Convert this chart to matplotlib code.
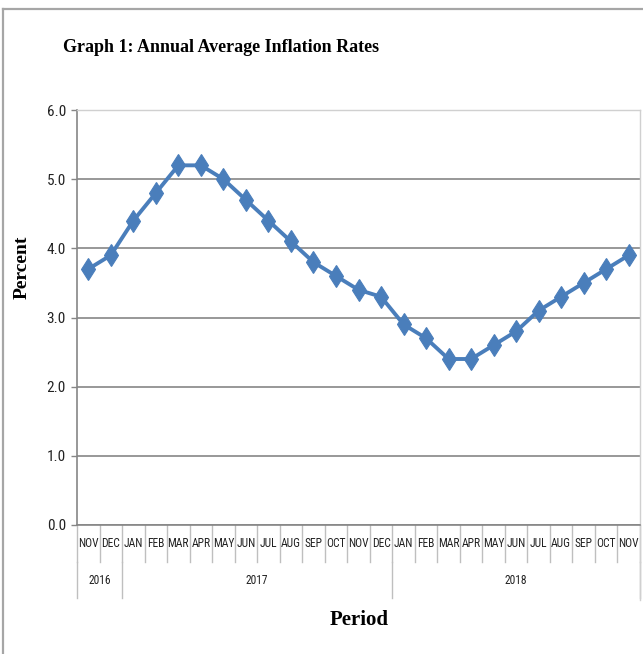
import matplotlib
matplotlib.use("Agg")
import matplotlib.pyplot as plt
from matplotlib.lines import Line2D
from matplotlib.transforms import blended_transform_factory
from matplotlib import font_manager

# Inflation data, Nov 2016 - Nov 2018
months = ["NOV", "DEC",
          "JAN", "FEB", "MAR", "APR", "MAY", "JUN", "JUL", "AUG", "SEP", "OCT", "NOV", "DEC",
          "JAN", "FEB", "MAR", "APR", "MAY", "JUN", "JUL", "AUG", "SEP", "OCT", "NOV"]
rates = [3.7, 3.9,
         4.4, 4.8, 5.2, 5.2, 5.0, 4.7, 4.4, 4.1, 3.8, 3.6, 3.4, 3.3,
         2.9, 2.7, 2.4, 2.4, 2.6, 2.8, 3.1, 3.3, 3.5, 3.7, 3.9]
years = ["2016", "2017", "2018"]
year_counts = [2, 12, 11]
y_ticks = [0.0, 1.0, 2.0, 3.0, 4.0, 5.0, 6.0]

# narrow sans for the axis text, if there is one
names = {f.name for f in font_manager.fontManager.ttflist}
narrow = [n for n in ["Liberation Sans Narrow", "Roboto Condensed", "Open Sans Condensed",
                      "DejaVu Sans Condensed"] if n in names]
tick_font = (narrow[:1] or ["Liberation Sans"]) + ["DejaVu Sans"]
serif = ["Liberation Serif", "DejaVu Serif"]
grid_col = "#868686"
sep_col = "#BFBFBF"

fig = plt.figure(figsize=(6.43, 6.54), dpi=100)
W, H = 643, 654

# outer chart border (cut off at right/bottom)
fig.add_artist(Line2D([3 / W, 1], [1 - 8.5 / H, 1 - 8.5 / H], transform=fig.transFigure,
                      color="#A6A6A6", lw=1.6))
fig.add_artist(Line2D([3 / W, 3 / W], [0, 1 - 8.5 / H], transform=fig.transFigure,
                      color="#A6A6A6", lw=1.6))

ax = fig.add_axes([77 / W, 1 - 525 / H, 563 / W, 415 / H])

x = list(range(len(months)))
ax.plot(x, rates, color="#4A7EBB", lw=2.8, marker="d", markersize=11.5,
        markeredgewidth=0.8, markeredgecolor="#4A7EBB", zorder=3)

ax.set_xlim(-0.5, len(months) - 0.5)
ax.set_ylim(0, 6)
ax.set_yticks(y_ticks)
ax.set_yticklabels([f"{v:.1f}" for v in y_ticks], fontfamily=tick_font, fontsize=11)
ax.yaxis.grid(True, color=grid_col, lw=1.2)
ax.set_axisbelow(True)
ax.tick_params(axis="y", length=4, width=1, color=grid_col, pad=4, labelcolor="#222222")
ax.set_xticks([])

for s in ["top", "right"]:
    ax.spines[s].set_color("#D0D0D0")
    ax.spines[s].set_linewidth(1)
ax.spines["left"].set_color(grid_col)
ax.spines["bottom"].set_color(grid_col)
ax.spines["left"].set_linewidth(1.2)
ax.spines["bottom"].set_linewidth(1.2)
ax.spines["right"].set_bounds(-0.18 * 6, 6)

# multi-level category axis
trans = blended_transform_factory(ax.transData, ax.transAxes)
row1 = -37 / 415
row2 = -73 / 415
for i in range(len(months) + 1):
    ax.plot([i - 0.5, i - 0.5], [0, row1], transform=trans, color=sep_col,
            lw=1, clip_on=False)
for i, m in enumerate(months):
    ax.text(i, row1 / 2, m, transform=trans, ha="center", va="center",
            fontfamily=tick_font, fontsize=8.3, color="#222222")

start = 0
for yr, n in zip(years, year_counts):
    ax.plot([start - 0.5, start - 0.5], [row1, row2], transform=trans, color=sep_col,
            lw=1, clip_on=False)
    ax.text(start + n / 2 - 0.5, (row1 + row2) / 2, yr, transform=trans,
            ha="center", va="center", fontfamily=tick_font, fontsize=8.3, color="#222222")
    start += n
ax.plot([start - 0.5, start - 0.5], [row1, row2], transform=trans, color=sep_col,
        lw=1, clip_on=False)

# titles and labels
fig.text(221 / W, 1 - 48 / H, "Graph 1: Annual Average Inflation Rates",
         ha="center", va="center", fontfamily=serif, fontweight="bold", fontsize=13)
fig.text(359 / W, 1 - 620 / H, "Period", ha="center", va="center",
         fontfamily=serif, fontweight="bold", fontsize=15)
fig.text(22 / W, 1 - 267 / H, "Percent", ha="center", va="center", rotation=90,
         fontfamily=serif, fontweight="bold", fontsize=14)

fig.savefig("out.png", dpi=100)
